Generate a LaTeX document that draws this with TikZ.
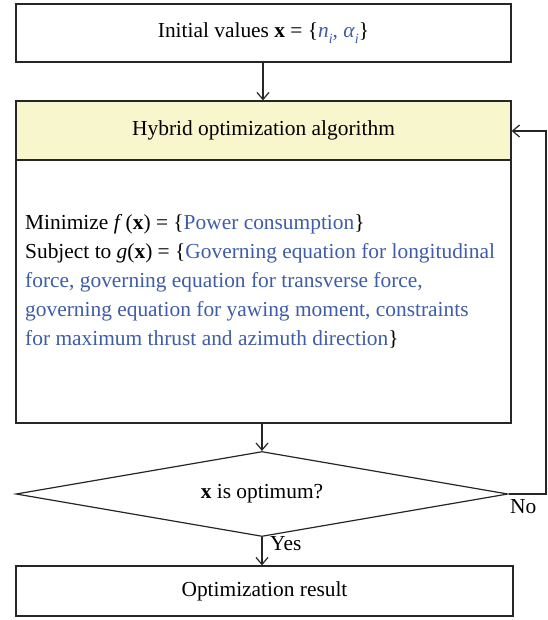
\documentclass[tikz,border=0pt]{standalone}
\usepackage{fontspec}
\setmainfont{Liberation Serif}
\usetikzlibrary{shapes.geometric,arrows.meta}
\definecolor{txtblue}{RGB}{62,92,168}
\definecolor{hdryellow}{RGB}{248,246,204}
\begin{document}
\begin{tikzpicture}[x=1pt,y=-1pt,
  every node/.style={font=\fontsize{21.4}{29}\selectfont},
  box/.style={draw=black!85, line width=1.3pt, rectangle, inner sep=0pt, minimum width=495pt},
  conn/.style={draw=black!85, line width=1.2pt, -{Straight Barb[length=7pt,width=12pt,line width=1.2pt]}},
  bl/.style={text=txtblue}]
\useasboundingbox (0,0) rectangle (547,620);
\node[box, minimum height=58pt] (init) at (263.5,33) {Initial values \textbf{x} = \{\textcolor{txtblue}{\textit{n}\raisebox{-0.3em}{\fontsize{14}{14}\selectfont\textit{i}}, \textit{α}\raisebox{-0.3em}{\fontsize{14}{14}\selectfont\textit{i}}}\}};
\node[box, minimum height=59pt, fill=hdryellow] (hyb) at (263.5,130.5) {Hybrid optimization algorithm};
\node[box, minimum height=263pt] (body) at (263.5,291.5) {};
\node[anchor=west, align=left, inner sep=0pt] (txt) at (25,281) {Minimize \textit{f}\,(\textbf{x}) = \{\textcolor{txtblue}{Power consumption}\}\\
Subject to \textit{g}(\textbf{x}) = \{\textcolor{txtblue}{Governing equation for longitudinal}\\
\textcolor{txtblue}{force, governing equation for transverse force,}\\
\textcolor{txtblue}{governing equation for yawing moment, constraints}\\
\textcolor{txtblue}{for maximum thrust and azimuth direction}\}};
\node[diamond, draw=black!85, line width=1.2pt, inner sep=0pt, aspect=5.8, minimum width=492pt, minimum height=85pt] (dec) at (262,494) {\textbf{x} is optimum?};
\node[box, minimum width=497pt, minimum height=50pt] (res) at (264.5,591) {Optimization result};
\coordinate (c1) at (546,494);
\coordinate (c2) at (546,131);
\draw[conn] (init.south -| 263,0) -- (hyb.north -| 263,0);
\draw[conn] (body.south -| 262,0) -- (dec.north);
\draw[conn] (dec.south) -- (res.north -| dec.south);
\draw[conn] (dec.east) -- (c1) -- (c2) -- (c2 -| hyb.east);
\node[anchor=north west, inner sep=0pt] (no) at (510,499) {No};
\node[anchor=west, inner sep=0pt] (yes) at (270,544) {Yes};
\end{tikzpicture}
\end{document}
